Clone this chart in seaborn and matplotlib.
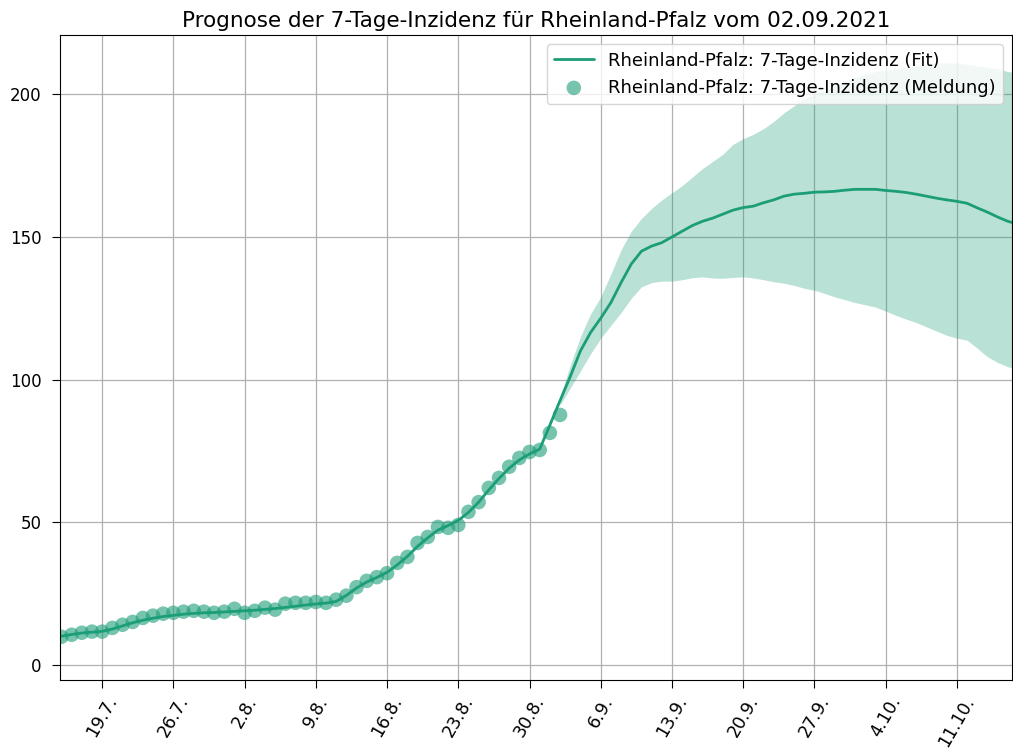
import matplotlib
matplotlib.use("Agg")
import matplotlib.pyplot as plt
import matplotlib.dates as mdates
from matplotlib.ticker import FuncFormatter
import seaborn as sns
import pandas as pd

# reported 7-day incidence, daily from 15.7.2021 to 2.9.2021
report_start = "2021-07-15"
reported = [9.8, 10.5, 11.2, 11.6, 11.6, 12.9, 14.0, 15.0, 16.4, 17.2, 17.9, 18.2, 18.6, 18.9, 18.6, 18.2, 18.6,
            19.6, 18.2, 18.9, 20.0, 19.3, 21.4, 21.7, 21.7, 22.0, 21.7, 22.8, 24.2, 27.2, 29.4, 30.7, 32.1,
            35.7, 37.8, 42.7, 44.8, 48.3, 48.0, 49.0, 53.6, 57.0, 62.0, 65.5, 69.4, 72.5, 74.6, 75.3,
            81.3, 87.6]

# fitted / forecast curve, daily from 15.7.2021 to 17.10.2021
fit_values = [10.0, 10.6, 11.1, 11.4, 11.7, 12.5, 13.6, 14.7, 15.6, 16.3, 16.9, 17.3, 17.7, 18.0, 18.2, 18.3, 18.5,
              18.7, 18.9, 19.1, 19.4, 19.7, 20.1, 20.5, 20.9, 21.3, 21.6, 22.2,
              24.3, 26.9, 29.0, 30.6, 32.4, 35.0, 38.0, 41.5, 44.5, 47.2, 48.8, 50.6, 53.4, 57.0, 61.3, 65.3,
              68.9, 71.8, 73.9, 75.6, 84.0, 92.6,
              101, 110, 116.5, 121.5, 127, 134, 140.5, 145, 146.8, 148, 150, 152, 154, 155.5, 156.6, 158,
              159.4, 160.3, 160.8, 162, 163, 164.3, 165, 165.3, 165.7, 165.8, 166, 166.4,
              166.7, 166.7, 166.7, 166.3, 166, 165.6, 165, 164.3, 163.6, 163, 162.5, 161.8, 160.2, 158.7,
              157, 155.5, 154.5]

# forecast band, daily from 2.9.2021 to 17.10.2021
band_start = "2021-09-02"
band_lower = [91, 97, 103, 109, 114.5, 119, 123.5, 128.5, 132.5, 134, 134.5, 134.5, 135, 135.7, 136, 135.6,
              135.5, 135.8, 136, 135.6, 135, 134.3, 133.8, 133, 132, 131.3, 130.2, 129, 128,
              127, 126.2, 125.4, 124, 122.5, 121.2, 120, 118.5, 117, 115.5, 114.5, 113.8, 111, 108, 106,
              104.5, 103.5]
band_upper = [94, 105, 115, 123, 129, 137, 145.5, 152, 156.5, 160, 163, 165.5, 168, 171, 174, 176.5, 179,
              182.5, 184.5, 186, 188, 190.5, 193.5, 196, 198.5, 200, 201.5, 203, 204.5,
              206, 207, 208, 208.5, 209, 209.5, 210, 210.5, 211, 211, 211, 210.5, 210, 209.5, 209, 208, 207.5]

report_dates = pd.date_range(report_start, periods=len(reported), freq="D")
fit_dates = pd.date_range(report_start, periods=len(fit_values), freq="D")
band_dates = pd.date_range(band_start, periods=len(band_lower), freq="D")

green = "#1b9e77"

sns.set_style("ticks")
plt.rcParams['font.family'] = ['DejaVu Sans']
plt.rcParams['text.color'] = 'black'
plt.rcParams['xtick.color'] = 'black'
plt.rcParams['ytick.color'] = 'black'

fig, ax = plt.subplots(figsize=(10.13, 7.52), dpi=100)
fig.subplots_adjust(left=0.059, right=0.999, top=0.953, bottom=0.096)

ax.fill_between(band_dates, band_lower, band_upper, color=green, alpha=0.3, linewidth=0)
sns.lineplot(x=fit_dates, y=fit_values, ax=ax, color=green, linewidth=2,
             label="Rheinland-Pfalz: 7-Tage-Inzidenz (Fit)")
sns.scatterplot(x=report_dates, y=reported, ax=ax, color=green, alpha=0.6, s=110, edgecolor="none",
                label="Rheinland-Pfalz: 7-Tage-Inzidenz (Meldung)")

ax.set_xlim(pd.Timestamp("2021-07-14 20:00"), pd.Timestamp("2021-10-16 10:00"))
ax.set_ylim(-5.3, 220.7)
ax.set_yticks([0, 50, 100, 150, 200])

ax.xaxis.set_major_locator(mdates.WeekdayLocator(byweekday=mdates.MO))
ax.xaxis.set_major_formatter(FuncFormatter(
    lambda v, pos: "{}.{}.".format(mdates.num2date(v).day, mdates.num2date(v).month)))
plt.setp(ax.get_xticklabels(), rotation=60)
ax.tick_params(axis="x", labelsize=12.5, length=6, colors="black")
ax.tick_params(axis="y", labelsize=12, length=6, pad=7, colors="black")

ax.grid(True, color="#b0b0b0", linewidth=0.9)
ax.set_axisbelow(True)
for s in ax.spines.values():
    s.set_color("black")

ax.set_xlabel("")
ax.set_ylabel("")
ax.set_title("Prognose der 7-Tage-Inzidenz für Rheinland-Pfalz vom 02.09.2021", fontsize=15.5, color="black")
ax.legend(loc="upper right", fontsize=13, handlelength=2.2)

plt.savefig("out.png", dpi=100)
